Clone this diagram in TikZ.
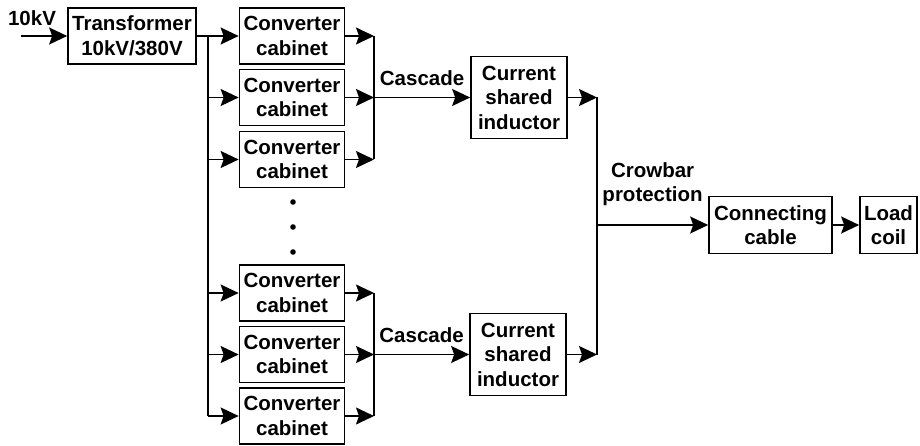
\documentclass[tikz,border=0pt]{standalone}
\usepackage{fontspec}
\setmainfont{Liberation Sans}
\usetikzlibrary{arrows.meta, positioning}

\begin{document}
\begin{tikzpicture}[
    x=1pt, y=-1pt,
    every node/.style={font=\fontsize{20.5}{24.5}\selectfont\bfseries, align=center, inner sep=0pt},
    block/.style={rectangle, draw, line width=1.7pt, minimum height=56pt},
    cabinet/.style={block, minimum width=105pt},
    inductor/.style={block, minimum width=96pt, minimum height=82pt},
    arrow/.style={-{Stealth[length=18pt, width=17pt, inset=3pt]}, line width=1.7pt},
    wire/.style={line width=1.7pt}
]
\useasboundingbox (0,0) rectangle (920,446);

% Supply and transformer
\coordinate (supply) at (21,36);
\node[block, minimum width=128pt] (trafo) at (132,36) {Transformer\\10kV/380V};
\node (supplylabel) at (32,18.5) {10kV};
\draw[arrow] (supply) -- (trafo.west);

% Converter cabinets
\foreach \i/\y in {1/36, 2/97.5, 3/159.5, 4/293, 5/354.5, 6/416}
    \node[cabinet] (cab\i) at (292,\y) {Converter\\cabinet};

% Ellipsis between the two groups
\foreach \y in {202,227,252}
    \fill (293,\y) circle (2.8pt);

% Distribution bus
\coordinate (bus) at (208,0);
\draw[wire] (trafo.east) -- (trafo.east -| bus) -- (cab6.west -| bus);
\foreach \i in {1,...,6}
    \draw[arrow] (cab\i.west -| bus) -- (cab\i.west);

% Current shared inductors
\node[inductor] (ind1) at (519,97.5) {Current\\shared\\inductor};
\node[inductor] (ind2) at (518,354.5) {Current\\shared\\inductor};

% Cascade of each group
\coordinate (sumA) at (374,0);
\foreach \i in {1,...,6}
    \draw[arrow] (cab\i.east) -- (cab\i.east -| sumA);
\draw[wire] (cab1.east -| sumA) -- (cab3.east -| sumA);
\draw[wire] (cab4.east -| sumA) -- (cab6.east -| sumA);
\draw[arrow] (cab2.east -| sumA) -- (ind1.west) node[midway, above=11pt] {Cascade};
\draw[arrow] (cab5.east -| sumA) -- (ind2.west) node[midway, above=11pt] {Cascade};

% Output side
\node[block, minimum width=123pt, minimum height=57pt] (cable) at (770.5,225) {Connecting\\cable};
\node[block, minimum width=57pt, minimum height=57pt] (coil) at (888.5,225) {Load\\coil};

\coordinate (sumB) at (597,0);
\draw[arrow] (ind1.east) -- (ind1.east -| sumB);
\draw[arrow] (ind2.east) -- (ind2.east -| sumB);
\draw[wire] (ind1.east -| sumB) -- (ind2.east -| sumB);
\draw[arrow] (cable.west -| sumB) -- (cable.west) node[midway, above=18pt] {Crowbar\\protection};
\draw[arrow] (cable) -- (coil);

\end{tikzpicture}
\end{document}
